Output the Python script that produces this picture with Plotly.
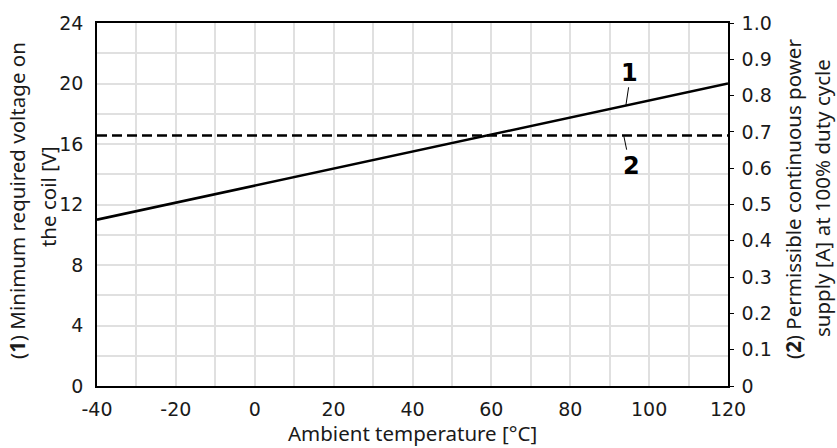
import plotly.graph_objects as go

# Ambient temperature range [°C]
temperature = [-40, 120]
# (1) Minimum required coil voltage [V] at the two temperature ends
min_voltage = [11, 20]
# (2) Permissible continuous current [A] at 100 % duty cycle (constant)
perm_current = [0.69, 0.69]

x_ticks = [-40, -20, 0, 20, 40, 60, 80, 100, 120]
x_tick_text = ["-40", "-20", "0", "20", "40", "60", "80", "100", "120"]
y_left_ticks = [0, 4, 8, 12, 16, 20, 24]
y_right_ticks = [0, 0.1, 0.2, 0.3, 0.4, 0.5, 0.6, 0.7, 0.8, 0.9, 1.0]
y_right_text = ["0", "0.1", "0.2", "0.3", "0.4", "0.5", "0.6", "0.7", "0.8", "0.9", "1.0"]

INK = "#1a1a1a"
GRID = "#e0e0e0"
TICK_FONT = dict(family="DejaVu Sans", size=19, color=INK)
TITLE_FONT = dict(family="Noto Sans", size=20.5, color=INK)

# plot area in pixels (used to place the rotated axis titles)
L, R, T, B = 97, 109, 21, 62
W, H = 837, 448
PW, PH = W - L - R, H - T - B


def px_x(px):
    return (px - L) / PW


def px_y(py):
    return (H - B - py) / PH


def voltage_at(t):
    """Linear interpolation on curve (1)."""
    t0, t1 = temperature
    v0, v1 = min_voltage
    return v0 + (v1 - v0) * (t - t0) / (t1 - t0)


fig = go.Figure()

fig.add_trace(go.Scatter(
    x=temperature, y=min_voltage, mode="lines",
    line=dict(color="black", width=2.6), yaxis="y", showlegend=False,
))
fig.add_trace(go.Scatter(
    x=temperature, y=perm_current, mode="lines",
    line=dict(color="black", width=2.6, dash="10px,5px"), yaxis="y2", showlegend=False,
))

# Leader lines for the curve numbers
fig.add_shape(type="line", xref="x", yref="y",
              x0=94.8, y0=19.75, x1=94.1, y1=voltage_at(94.1),
              line=dict(color="black", width=1))
fig.add_shape(type="line", xref="x", yref="y2",
              x0=93.6, y0=0.688, x1=94.3, y1=0.651,
              line=dict(color="black", width=1))

num_font = dict(family="DejaVu Sans", size=24, color="black")
fig.add_annotation(x=95.0, y=20.7, xref="x", yref="y", text="<b>1</b>",
                   showarrow=False, font=num_font, xanchor="center", yanchor="middle")
fig.add_annotation(x=95.6, y=0.605, xref="x", yref="y2", text="<b>2</b>",
                   showarrow=False, font=num_font, xanchor="center", yanchor="middle")

# Axis titles (each line placed separately)
title_lines = [
    ("(<b>1</b>) Minimum required voltage on", 17, 200),
    ("the coil [V]", 48, 196),
    ("(<b>2</b>) Permissible continuous power", 793, 198),
    ("supply [A] at 100% duty cycle", 822, 197),
]
for text, cx, cy in title_lines:
    fig.add_annotation(x=px_x(cx), y=px_y(cy), xref="paper", yref="paper",
                       text=text, textangle=-90, showarrow=False, font=TITLE_FONT,
                       xanchor="center", yanchor="middle", borderpad=0)

fig.add_annotation(x=0.5, y=px_y(433), xref="paper", yref="paper",
                   text="Ambient temperature [°C]", showarrow=False, font=TITLE_FONT,
                   xanchor="center", yanchor="middle", borderpad=0)

fig.update_layout(
    width=W, height=H,
    margin=dict(l=L, r=R, t=T, b=B),
    paper_bgcolor="white", plot_bgcolor="white",
    xaxis=dict(
        range=[-40, 120], tickvals=x_ticks, ticktext=x_tick_text, ticks="", showgrid=True,
        gridcolor=GRID, gridwidth=1.5,
        minor=dict(dtick=10, tick0=-40, showgrid=True, gridcolor=GRID, gridwidth=1.5),
        showline=True, linecolor="black", linewidth=1.5, mirror=True,
        tickfont=TICK_FONT, zeroline=False, ticklabelstandoff=5,
    ),
    yaxis=dict(
        range=[0, 24], tickvals=y_left_ticks, ticks="", showgrid=True,
        gridcolor=GRID, gridwidth=1.5,
        minor=dict(dtick=2, tick0=0, showgrid=True, gridcolor=GRID, gridwidth=1.5),
        showline=True, linecolor="black", linewidth=1.5,
        tickfont=TICK_FONT, zeroline=False, ticklabelstandoff=8,
    ),
    yaxis2=dict(
        range=[0, 1], overlaying="y", side="right",
        tickvals=y_right_ticks, ticktext=y_right_text,
        ticks="outside", ticklen=4, tickcolor="black", tickwidth=1,
        showgrid=False, showline=True, linecolor="black", linewidth=1.5,
        tickfont=TICK_FONT, zeroline=False, ticklabelstandoff=4,
    ),
)

fig.write_html("out.html")
